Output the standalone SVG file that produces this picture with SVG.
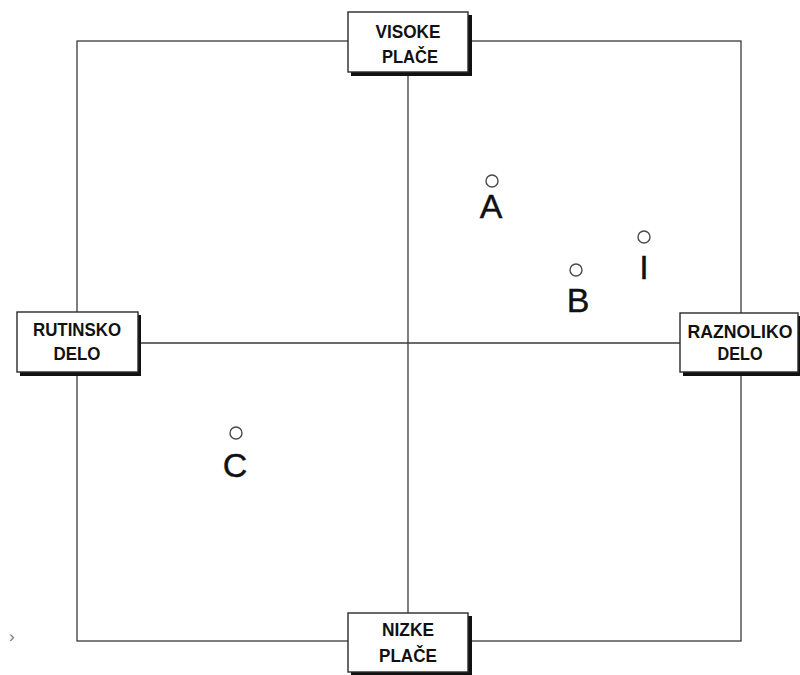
<svg xmlns="http://www.w3.org/2000/svg" width="800" height="675" viewBox="0 0 800 675">
  <style>
    .frame { fill: none; stroke: #3a3a3a; stroke-width: 1.3; }
    .axis { stroke: #3a3a3a; stroke-width: 1.3; }
    .box { fill: #ffffff; stroke: #2a2a2a; stroke-width: 1.4; }
    .shadow { fill: #111111; }
    .lbl { font-family: "Liberation Sans", Arial, sans-serif; font-weight: bold; font-size: 18px; fill: #111111; text-anchor: middle; }
    .pt { fill: #ffffff; stroke: #4a4a4a; stroke-width: 1.4; }
    .ptl { font-family: "Liberation Sans", Arial, sans-serif; font-size: 34px; fill: #111111; stroke: #111111; stroke-width: 0.4; text-anchor: middle; }
  </style>
  <rect width="800" height="675" fill="#ffffff"/>

  <!-- outer frame and axes -->
  <g id="connectors">
    <rect class="frame" x="77" y="41" width="664" height="600"/>
    <line class="axis" x1="408" y1="72" x2="408" y2="613"/>
    <line class="axis" x1="138" y1="343" x2="680" y2="343"/>
  </g>

  <!-- axis end labels -->
  <g id="visoke-place">
    <rect class="shadow" x="351" y="15" width="121" height="61"/>
    <rect class="box" x="348" y="12" width="120" height="60"/>
    <text class="lbl" x="408" y="38" textLength="65" lengthAdjust="spacingAndGlyphs">VISOKE</text>
    <text class="lbl" x="410" y="63" textLength="56" lengthAdjust="spacingAndGlyphs">PLAČE</text>
  </g>

  <g id="rutinsko-delo">
    <rect class="shadow" x="20" y="315" width="121" height="61"/>
    <rect class="box" x="17" y="312" width="121" height="60"/>
    <text class="lbl" x="77" y="336" textLength="88" lengthAdjust="spacingAndGlyphs">RUTINSKO</text>
    <text class="lbl" x="77" y="360" textLength="47" lengthAdjust="spacingAndGlyphs">DELO</text>
  </g>

  <g id="raznoliko-delo">
    <rect class="shadow" x="683" y="316" width="120" height="60"/>
    <rect class="box" x="680" y="313" width="118" height="59"/>
    <text class="lbl" x="740" y="338" textLength="105" lengthAdjust="spacingAndGlyphs">RAZNOLIKO</text>
    <text class="lbl" x="740" y="360" textLength="45" lengthAdjust="spacingAndGlyphs">DELO</text>
  </g>

  <g id="nizke-place">
    <rect class="shadow" x="351" y="616" width="121" height="60"/>
    <rect class="box" x="348" y="613" width="120" height="59"/>
    <text class="lbl" x="408" y="636" textLength="52" lengthAdjust="spacingAndGlyphs">NIZKE</text>
    <text class="lbl" x="408" y="662" textLength="58" lengthAdjust="spacingAndGlyphs">PLAČE</text>
  </g>

  <!-- plotted positions -->
  <g id="point-a">
    <circle class="pt" cx="492" cy="181" r="6"/>
    <text class="ptl" x="491" y="218">A</text>
  </g>
  <g id="point-b">
    <circle class="pt" cx="576" cy="270" r="6"/>
    <text class="ptl" x="578" y="312">B</text>
  </g>
  <g id="point-i">
    <circle class="pt" cx="644" cy="237" r="6"/>
    <text class="ptl" x="644" y="279">I</text>
  </g>
  <g id="point-c">
    <circle class="pt" cx="236" cy="433" r="6"/>
    <text class="ptl" x="235" y="477">C</text>
  </g>

  <text x="9" y="642" font-family="'Liberation Sans', Arial, sans-serif" font-size="17" fill="#777777">›</text>
</svg>
